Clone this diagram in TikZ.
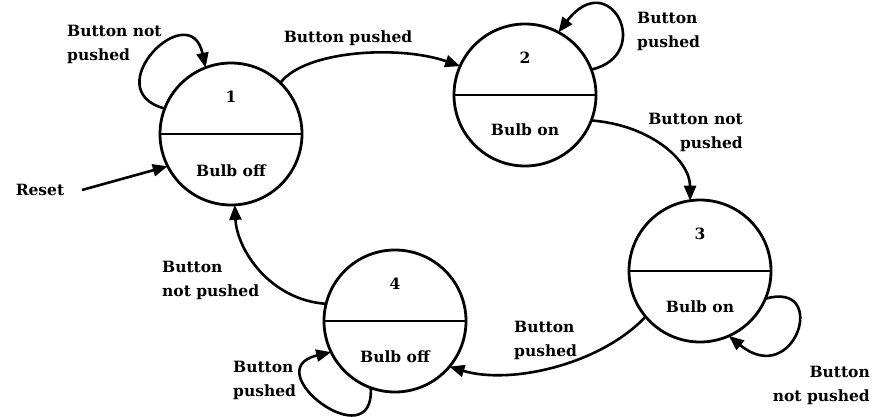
\documentclass[tikz,border=0pt]{standalone}
\usepackage{fontspec}
\setmainfont{DejaVu Serif}
\usetikzlibrary{arrows.meta}
\begin{document}
\begin{tikzpicture}[x=1pt,y=-1pt,
  state/.style={circle,draw,line width=2.8pt,minimum size=142pt,inner sep=0pt,outer sep=0pt},
  lbl/.style={font=\bfseries\fontsize{15.5}{24}\selectfont,inner sep=0pt},
  divider/.style={line width=2.8pt},
  edge/.style={line width=2.6pt,-{Triangle[length=15pt,width=12pt]}}]
\useasboundingbox[fill=white] (0,0) rectangle (875,417);

% states
\node[state] (s1) at (231,134) {};
\node[state] (s2) at (525,95) {};
\node[state] (s3) at (700,271) {};
\node[state] (s4) at (395,321) {};
\draw[divider] (s1.west) -- (s1.east);
\draw[divider] (s2.west) -- (s2.east);
\draw[divider] (s3.west) -- (s3.east);
\draw[divider] (s4.west) -- (s4.east);

\node[lbl] (n1) at (231,97) {1};
\node[lbl] (t1) at (231,171) {Bulb off};
\node[lbl] (n2) at (525,58) {2};
\node[lbl] (t2) at (525,130) {Bulb on};
\node[lbl] (n3) at (700,234) {3};
\node[lbl] (t3) at (700,307) {Bulb on};
\node[lbl] (n4) at (395,284) {4};
\node[lbl] (t4) at (395,357) {Bulb off};

% transitions
\draw[edge] (s1.46) .. controls (305,50) and (400,45) .. (s2.156);
\draw[edge] (s2.339) .. controls (650,125) and (690,160) .. (s3.98);
\draw[edge] (s3.220) .. controls (600,365) and (510,385) .. (s4.320);
\draw[edge] (s4.166) .. controls (270,300) and (237,250) .. (s1.273);

% self loops
\draw[edge] (s1.159) .. controls (95,90) and (190,-5) .. (s1.111);
\draw[edge] (s2.21) .. controls (655,55) and (610,-35) .. (s2.62);
\draw[edge] (s3.337) .. controls (830,280) and (795,390) .. (s3.294);
\draw[edge] (s4.250) .. controls (375,460) and (255,370) .. (s4.206);

% reset
\coordinate (r0) at (82,190);
\draw[edge] (r0) -- (s1.207);

% labels
\node[lbl,anchor=west,align=left] (l1) at (67,44) {Button not\\pushed};
\node[lbl] (l12) at (348,38) {Button pushed};
\node[lbl,anchor=west,align=left] (l2) at (637,31) {Button\\pushed};
\node[lbl,anchor=east,align=right] (l23) at (743,132) {Button not\\pushed};
\node[lbl] (lr) at (40,190) {Reset};
\node[lbl,anchor=west,align=left] (l41) at (162,280) {Button\\not pushed};
\node[lbl,anchor=west,align=left] (l4) at (233,380) {Button\\pushed};
\node[lbl,anchor=west,align=left] (l34) at (514,340) {Button\\pushed};
\node[lbl,anchor=east,align=right] (l3) at (870,385) {Button\\not pushed};
\end{tikzpicture}
\end{document}
